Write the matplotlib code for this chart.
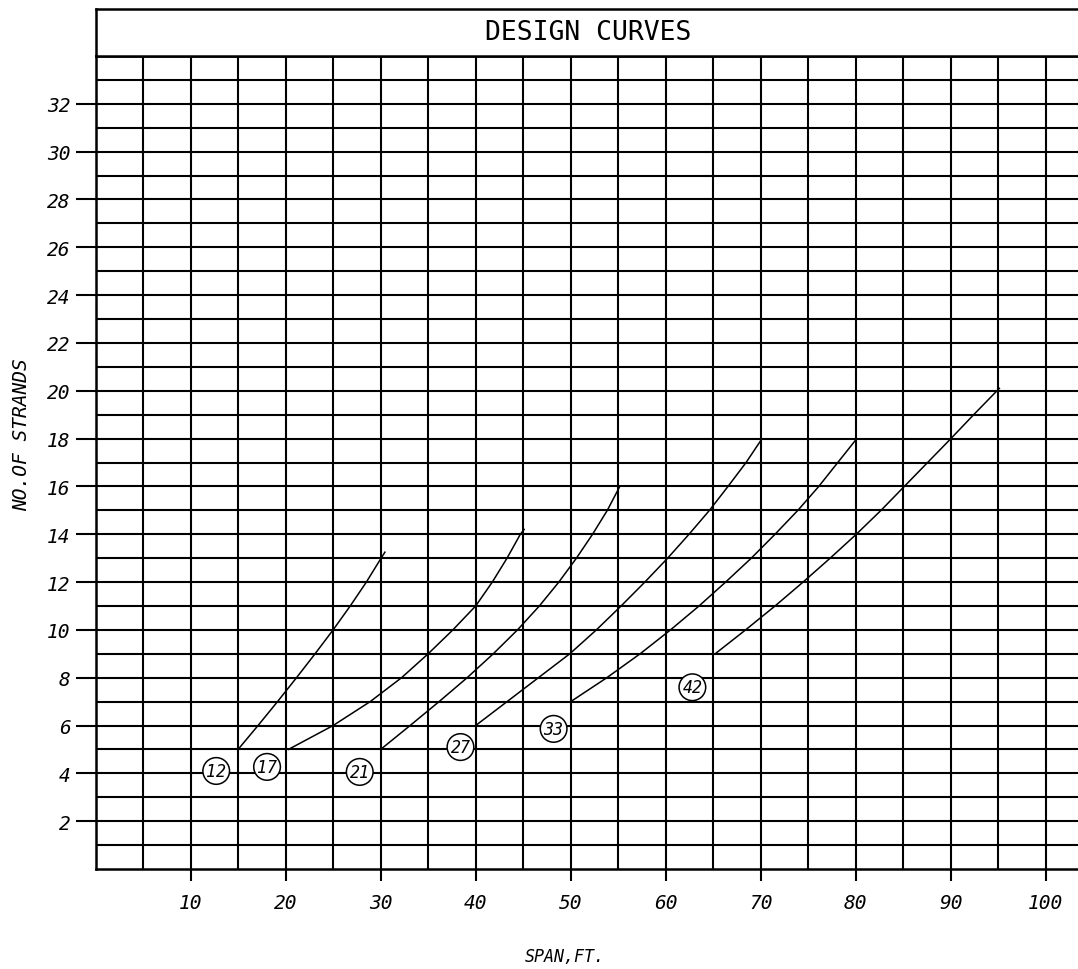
import matplotlib.pyplot as plt

plt.rcParams['font.family'] = 'DejaVu Sans Mono'

# design curves: span (ft) vs number of strands, one per beam size
curve_names = ['12', '17', '21', '27', '33', '42']
span_12 = [15, 17.1, 19.15, 21.15, 23.1, 25.0, 26.8, 28.5, 30.05, 30.45]
strands_12 = [5, 6, 7, 8, 9, 10, 11, 12, 13, 13.25]
span_17 = [20.3, 25.0, 28.9, 32.2, 35.0, 37.6, 40.0, 41.75, 43.3, 44.7, 45.1]
strands_17 = [5, 6, 7, 8, 9, 10, 11, 12, 13, 14, 14.2]
span_21 = [30, 33.1, 36.15, 39.1, 41.85, 44.4, 46.7, 48.75, 50.6, 52.3, 53.85, 55.1]
strands_21 = [5, 6, 7, 8, 9, 10, 11, 12, 13, 14, 15, 15.95]
span_27 = [40, 43.3, 46.6, 49.9, 52.7, 55.3, 57.8, 60.2, 62.45, 64.6, 66.55, 68.45, 70.05]
strands_27 = [6, 7, 8, 9, 10, 11, 12, 13, 14, 15, 16, 17, 17.95]
span_33 = [50, 53.8, 57.3, 60.5, 63.5, 66.3, 69.0, 71.5, 73.9, 76.1, 78.1, 80.0]
strands_33 = [7, 8, 9, 10, 11, 12, 13, 14, 15, 16, 17, 17.95]
span_42 = [65.2, 68.4, 71.5, 74.45, 77.3, 80.05, 82.65, 85.1, 87.55, 90.0, 92.4, 94.85, 95.1]
strands_42 = [9, 10, 11, 12, 13, 14, 15, 16, 17, 18, 19, 20, 20.1]

spans = [span_12, span_17, span_21, span_27, span_33, span_42]
strands = [strands_12, strands_17, strands_21, strands_27, strands_33, strands_42]

# circled tag positions (span, strands)
tag_x = [12.7, 18.05, 27.8, 38.4, 48.2, 62.8]
tag_y = [4.1, 4.27, 4.06, 5.1, 5.86, 7.6]

x_ticks = [10, 20, 30, 40, 50, 60, 70, 80, 90, 100]
y_ticks = [2, 4, 6, 8, 10, 12, 14, 16, 18, 20, 22, 24, 26, 28, 30, 32]

W, H = 1078, 970
fig = plt.figure(figsize=(W/100, H/100), dpi=100)

x0 = 95.5/W
ax = fig.add_axes([x0, 100/H, 1.0 - x0 + 0.002, 813/H])
ax.set_xlim(0, 103.6)
ax.set_ylim(0, 34)

# grid
for yy in range(1, 34):
    ax.axhline(yy, color='black', lw=1.5, zorder=1)
for xx in range(5, 105, 5):
    ax.axvline(xx, color='black', lw=1.5, zorder=1)

for sx, sy in zip(spans, strands):
    ax.plot(sx, sy, color='black', lw=1.1, zorder=2)

for name, tx, ty in zip(curve_names, tag_x, tag_y):
    ax.text(tx, ty, name, ha='center', va='center', fontsize=12, style='italic',
            bbox=dict(boxstyle='circle,pad=0.2', fc='white', ec='black', lw=1.1),
            zorder=3)

for s in ['left', 'bottom', 'top']:
    ax.spines[s].set_linewidth(1.8)
ax.spines['right'].set_visible(False)

ax.set_xticks(x_ticks)
ax.set_xticklabels([str(v) for v in x_ticks], style='italic', fontsize=14)
ax.set_yticks(y_ticks)
ax.set_yticklabels([str(v) for v in y_ticks], style='italic', fontsize=14)
ax.tick_params(axis='y', direction='out', length=14.5, width=1.5, pad=3.5)
ax.tick_params(axis='x', direction='out', length=8.5, width=1.5, pad=9)

# title box
tax = fig.add_axes([x0, 913/H, 1.0 - x0 + 0.002, 47/H])
tax.set_xticks([])
tax.set_yticks([])
for s in ['left', 'top', 'bottom']:
    tax.spines[s].set_linewidth(1.8)
tax.spines['right'].set_visible(False)
tax.text(0.5, 0.5, 'DESIGN CURVES', ha='center', va='center', fontsize=19,
         transform=tax.transAxes)

fig.text(22/W, 1 - 435/H, 'NO.OF STRANDS', rotation=90, ha='center', va='center',
         fontsize=14, style='italic')
fig.text(565/W, 1 - 957/H, 'SPAN,FT.', ha='center', va='center',
         fontsize=12, style='italic')

fig.savefig('out.png', dpi=100, facecolor='white')
